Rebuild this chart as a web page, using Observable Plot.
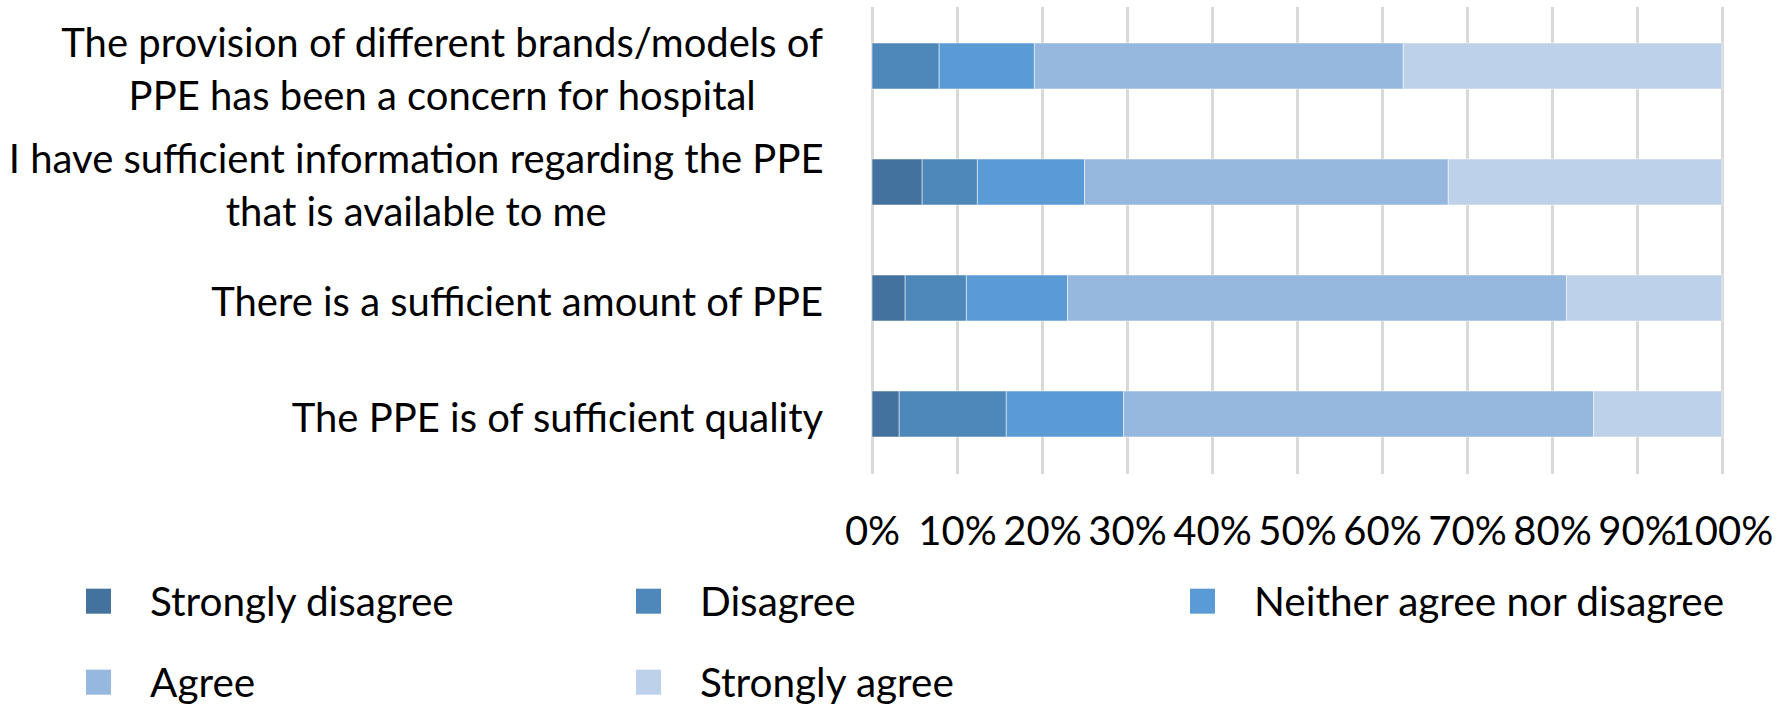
<!DOCTYPE html>
<html><head><meta charset="utf-8">
<script src="https://cdn.jsdelivr.net/npm/d3@7"></script>
<script src="https://cdn.jsdelivr.net/npm/@observablehq/plot@0.6"></script>
<style>
body{margin:0;background:#fff;}
#wrap{position:relative;width:1776px;height:704px;font-family:Lato, sans-serif;}
.leg{position:absolute;display:flex;align-items:center;font-size:40.5px;color:#000;line-height:1.3;white-space:nowrap;transform:translateY(-50%);}
.sw{width:25px;height:25px;margin-right:39px;flex:none;}
</style></head><body><div id="wrap"></div>
<script>
const questions = [
  "The provision of different brands/models of PPE has been a concern for hospital",
  "I have sufficient information regarding the PPE that is available to me",
  "There is a sufficient amount of PPE",
  "The PPE is of sufficient quality"
];
const questionLines = [
  ["The provision of different brands/models of", "PPE has been a concern for hospital"],
  ["I have sufficient information regarding the PPE", "that is available to me"],
  ["There is a sufficient amount of PPE"],
  ["The PPE is of sufficient quality"]
];
const levels = ["Strongly disagree", "Disagree", "Neither agree nor disagree", "Agree", "Strongly agree"];
const colors = ["#43729e", "#4e88bb", "#5b9bd5", "#97b8de", "#bdd1ea"];
const stronglyDisagree = [0, 5.9, 3.9, 3.2];
const disagree = [7.9, 6.5, 7.2, 12.6];
const neither = [11.2, 12.6, 11.9, 13.8];
const agree = [43.4, 42.8, 58.7, 55.3];
const stronglyAgree = [37.5, 32.2, 18.3, 15.1];
const xTicks = [0, 10, 20, 30, 40, 50, 60, 70, 80, 90, 100];

const series = [stronglyDisagree, disagree, neither, agree, stronglyAgree];
const data = [];
questions.forEach((q, i) => levels.forEach((lv, j) => data.push({q, level: lv, v: series[j][i]})));

const FONT = "Lato, sans-serif";
const FS = 40;
const ctx = document.createElement("canvas").getContext("2d");
ctx.font = `${FS}px ${FONT}`;
const gap = 49;

const labelMarks = questions.map((q, i) => {
  const lines = questionLines[i];
  const w = Math.max(...lines.map(l => ctx.measureText(l).width));
  return Plot.text([q], {
    y: d => d, text: () => lines.join("\n"), frameAnchor: "left",
    textAnchor: "middle", dx: -(gap + w / 2), lineHeight: 1.34,
    fontSize: FS, fill: "#000"
  });
});

const chart = Plot.plot({
  width: 1776, height: 570,
  marginLeft: 872, marginRight: 54, marginTop: 7, marginBottom: 96,
  style: {fontFamily: FONT, fontSize: FS + "px", color: "#000", background: "#fff", overflow: "visible"},
  x: {domain: [0, 100], label: null},
  y: {domain: questions, paddingInner: 0.6, paddingOuter: 0.3, label: null},
  color: {domain: levels, range: colors},
  marks: [
    Plot.ruleX(xTicks, {stroke: "#d9d9d9", strokeWidth: 3}),
    Plot.barX(data, {y: "q", x: "v", fill: "level", stroke: "#ffffff", strokeOpacity: 0.5, strokeWidth: 1}),
    Plot.axisX({ticks: xTicks, tickSize: 0, tickPadding: 42, tickFormat: d => d + "%", fontSize: FS, label: null}),
    Plot.axisY({ticks: [], label: null, tickSize: 0}),
    ...labelMarks
  ]
});
const wrap = document.getElementById("wrap");
wrap.appendChild(chart);

const legPos = [[86, 601], [636, 601], [1190, 601], [86, 682], [636, 682]];
levels.forEach((lv, i) => {
  const d = document.createElement("div");
  d.className = "leg";
  d.style.left = legPos[i][0] + "px";
  d.style.top = legPos[i][1] + "px";
  const sw = document.createElement("div");
  sw.className = "sw";
  sw.style.background = colors[i];
  const t = document.createElement("span");
  t.textContent = lv;
  d.appendChild(sw); d.appendChild(t);
  wrap.appendChild(d);
});
</script></body></html>
